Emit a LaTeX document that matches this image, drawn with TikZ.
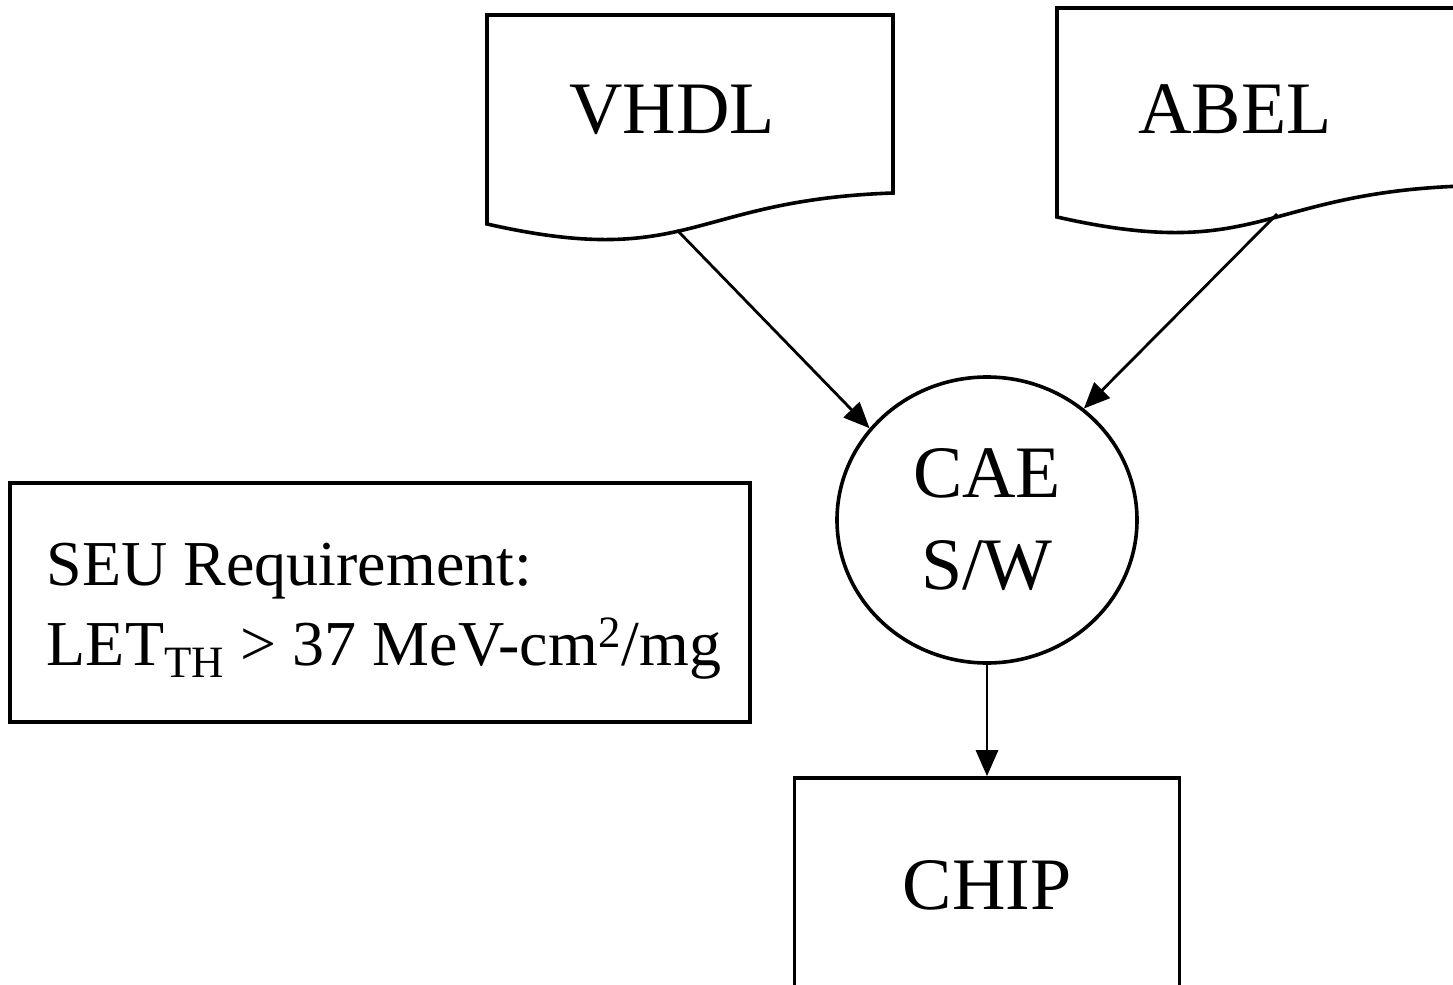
\documentclass[tikz,border=0pt]{standalone}
\usepackage{fontspec}
\setmainfont{Liberation Serif}
\usetikzlibrary{arrows.meta,shapes.geometric}

\begin{document}
\begin{tikzpicture}[
  x=0.5pt, y=-0.5pt,
  font=\fontsize{37}{46}\selectfont,
  flow/.style={-{Triangle[length=13pt,width=11pt]}, line width=1.4pt},
  srcdoc/.pic={
    \draw[line width=1.8pt] (0,0) -- (406,0) -- (406,178)
      .. controls (203,185) and (203,255) .. (0,209) -- cycle;},
  tool/.style={draw, ellipse, line width=1.8pt, minimum width=150pt,
    minimum height=143pt, inner sep=0pt, align=center},
  part/.style={draw, line width=1.8pt, minimum width=192.5pt,
    minimum height=107pt},
  note/.style={draw, line width=1.8pt, minimum width=370pt,
    minimum height=119.5pt, align=left,
    font=\fontsize{32}{40}\selectfont},
  ]
  \clip (0,0) rectangle (1453,985);

  % Source documents.
  \pic at (487,15) {srcdoc};
  \pic at (1057,8) {srcdoc};
  \node[anchor=base] (vhdl) at (672,133) {VHDL};
  \node[anchor=base] (abel) at (1235,133) {ABEL};
  \coordinate (vhdlout) at (677,230);
  \coordinate (abelout) at (1277,214);

  % Tool and result.
  \node[tool] (cae) at (987,520) {CAE\\S/W};
  \node[part] (chip) at (987,885) {CHIP};

  \draw[flow] (vhdlout) -- (cae.142);
  \draw[flow] (abelout) -- (cae.49);
  \draw[flow] (cae) -- (chip);

  % Requirement.
  \node[note] (seu) at (380,602.5)
    {\hspace*{4pt}\rule{0pt}{30pt}SEU Requirement:\\
     \hspace*{4pt}LET\textsubscript{TH} > 37 MeV-cm\textsuperscript{2}/mg};
\end{tikzpicture}
\end{document}
